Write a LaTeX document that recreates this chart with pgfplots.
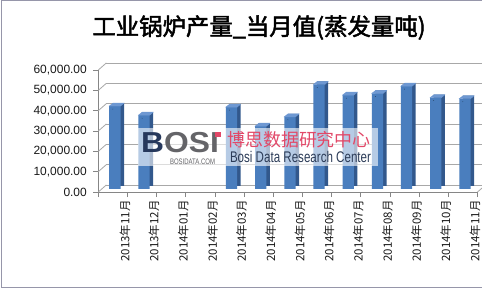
\documentclass[border=0pt]{standalone}
\usepackage{fontspec}
\setmainfont{Liberation Sans}
\newfontfamily\cjk{Noto Sans CJK SC}
\newfontfamily\cjktitle[FakeBold=2]{Noto Sans CJK SC}
\usepackage{pgfplots}
\usepackage{pgfplotstable}
\pgfplotsset{compat=1.18}

\definecolor{barFront}{RGB}{74,126,190}
\definecolor{barSide}{RGB}{50,88,140}
\definecolor{barTop}{RGB}{110,152,210}
\definecolor{gridGray}{RGB}{168,168,168}
\definecolor{axisGray}{RGB}{134,134,134}
\definecolor{frameGray}{RGB}{150,150,170}
\definecolor{logoRed}{RGB}{226,72,104}
\definecolor{logoNavy}{RGB}{38,56,92}
\definecolor{logoGray}{RGB}{100,100,104}
\definecolor{logoText}{RGB}{44,60,88}

% monthly output, steam tonnage (no data for Jan/Feb 2014)
\pgfplotstableread{
idx value
0  40800
1  36300
4  40300
5  30900
6  35500
7  51400
8  46200
9  47000
10 50600
11 44900
12 44400
}\boilers

\begin{document}
\begin{tikzpicture}
\useasboundingbox (0,0) rectangle (482bp,290bp);
\fill[white] (0,0) rectangle (482bp,290bp);
\draw[frameGray, line width=1bp] (482bp,289.5bp) -- (1.5bp,289.5bp) -- (1.5bp,2bp) -- (482bp,2bp);

\node[font=\cjktitle\fontsize{23.5}{26}\selectfont, anchor=center] at (259bp,262.5bp)
  {工业锅炉产量\_当月值(蒸发量吨)};

\begin{axis}[
  at={(98.3bp,98bp)}, anchor=south west,
  scale only axis, width=379.2bp, height=122bp,
  xmin=-0.5, xmax=12.5, ymin=0, ymax=60000,
  enlargelimits=false, clip=false,
  scaled y ticks=false,
  axis x line*=bottom, axis y line*=left,
  axis line style={axisGray, line width=0.8bp},
  ytick={0,10000,...,60000},
  yticklabels={0.00,{10,000.00},{20,000.00},{30,000.00},{40,000.00},{50,000.00},{60,000.00}},
  ymajorgrids,
  major grid style={gridGray, line width=0.8bp, xshift=8bp, yshift=7bp},
  xtick={0,...,12},
  xticklabels={2013年11月,2013年12月,2014年01月,2014年02月,2014年03月,2014年04月,2014年05月,2014年06月,2014年07月,2014年08月,2014年09月,2014年10月,2014年11月},
  minor xtick={-0.5,0.5,...,12.5},
  tick align=outside,
  major tick length=5bp, minor tick length=5bp,
  tick style={axisGray, line width=0.8bp},
  major x tick style={draw=none},
  xticklabel style={font=\cjk\fontsize{11.5}{12}\selectfont, rotate=90, anchor=east, yshift=-12bp, text=black!90},
  yticklabel style={font=\fontsize{12}{12}\selectfont, xshift=-3bp, text=black!90},
]
% side walls of the floor and back wall
\pgfplotsinvokeforeach{0,10000,20000,30000,40000,50000,60000}{
  \draw[gridGray, line width=0.8bp] (axis cs:-0.5,#1) -- ++(8bp,7bp);
}
\draw[gridGray, line width=0.8bp] (axis cs:12.5,0) -- ++(8bp,7bp);

% column depth (side and top)
\addplot[ybar, bar width=11.3bp, bar shift=5.5bp, yshift=6bp, fill=barSide, draw=none]
  table[x=idx, y=value] {\boilers};
% column front faces
\addplot[ybar, bar width=11.3bp, bar shift=2bp, yshift=3bp, fill=barFront, draw=none]
  table[x=idx, y=value] {\boilers};
% column caps
\addplot[scatter, only marks, mark=*, mark size=0.01pt, mark options={draw=none, fill=none},
  scatter/@pre marker code/.code={
    \fill[barTop] (-3.65bp,3bp) -- (7.65bp,3bp) -- (11.15bp,6bp) -- (0.15bp,6bp) -- cycle;},
  scatter/@post marker code/.code={}]
  table[x=idx, y=value] {\boilers};
\end{axis}

% watermark
\fill[white, opacity=0.6] (138bp,124bp) rectangle (378bp,162bp);
\node[anchor=west, inner sep=0pt, xscale=1.1, font=\bfseries\fontsize{29}{29}\selectfont] at (141bp,147.2bp)
  {\textcolor{logoNavy}{B}\textcolor{logoGray}{OSI}};
\fill[logoRed] (214.5bp,153bp) rectangle (220.5bp,157.5bp);
\node[anchor=center, inner sep=0pt, xscale=0.75, font=\fontsize{8}{8}\selectfont, text=logoGray] at (192.5bp,128.2bp) {BOSIDATA.COM};
\node[anchor=center, inner sep=0pt, font=\cjk\fontsize{18}{18}\selectfont, text=logoRed] at (299bp,150bp) {博思数据研究中心};
\node[anchor=center, inner sep=0pt, xscale=0.75, font=\fontsize{15.5}{16}\selectfont, text=logoText] at (300.5bp,133bp) {Bosi Data Research Center};
\end{tikzpicture}
\end{document}
